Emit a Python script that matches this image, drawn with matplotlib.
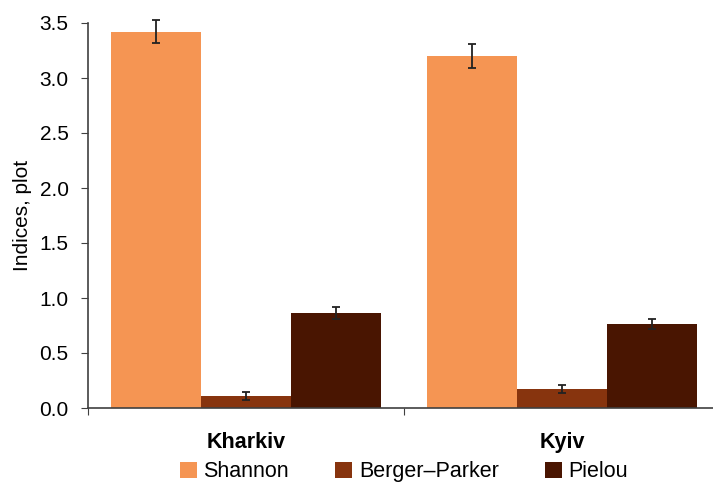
import matplotlib
matplotlib.use("Agg")
import matplotlib.pyplot as plt
import numpy as np

plt.rcParams['font.family'] = ['Liberation Sans', 'DejaVu Sans']

categories = ["Kharkiv", "Kyiv"]
series = ["Shannon", "Berger–Parker", "Pielou"]
shannon = [3.42, 3.20]
shannon_err = [0.105, 0.11]
berger = [0.11, 0.175]
berger_err = [0.035, 0.036]
pielou = [0.86, 0.765]
pielou_err = [0.055, 0.048]
colors = ["#F59553", "#87340E", "#491501"]
yticks = [0.0, 0.5, 1.0, 1.5, 2.0, 2.5, 3.0, 3.5]

fig = plt.figure(figsize=(7.13, 4.83), dpi=100)
ax = fig.add_axes([88/713, 75/483, 632/713, 385/483])

x = np.arange(len(categories))
w = 0.285
vals = [shannon, berger, pielou]
errs = [shannon_err, berger_err, pielou_err]
for i, (v, e, c, name) in enumerate(zip(vals, errs, colors, series)):
    cont = ax.bar(x + (i - 1) * w, v, width=w, color=c, label=name, zorder=2,
                  yerr=e, capsize=2.9,
                  error_kw=dict(ecolor="#222222", elinewidth=1.3, capthick=1.3, zorder=3))
    if cont.errorbar is not None:
        for art in cont.errorbar.lines[1] + cont.errorbar.lines[2]:
            art.set_clip_on(False)

ax.set_xlim(-0.5, 1.5)
ax.set_ylim(0, 3.5)
ax.set_yticks(yticks)
ax.set_yticklabels([f"{t:.1f}" for t in yticks], fontsize=15)
ax.set_xticks([-0.5, 0.5, 1.5])
ax.set_xticklabels([])
ax.set_xticks(x, minor=True)
ax.set_xticklabels(categories, minor=True, fontsize=15.5, fontweight='bold')
ax.tick_params(axis='x', which='minor', length=0, pad=17)
ax.tick_params(axis='x', which='major', length=5, color="#404040")
ax.tick_params(axis='y', length=5, color="#404040", pad=9)
for s in ["top", "right"]:
    ax.spines[s].set_visible(False)
for s in ["left", "bottom"]:
    ax.spines[s].set_color("#404040")
    ax.spines[s].set_linewidth(1.2)
ax.set_ylabel("Indices, plot", fontsize=15, labelpad=5)

fig.legend(loc="lower left", bbox_to_anchor=(171/713, -8/483), ncol=3, frameon=False,
           fontsize=15.5, handlelength=0.8, handleheight=0.8, handletextpad=0.3,
           columnspacing=2.15, borderaxespad=0)

fig.savefig("out.png", dpi=100)
